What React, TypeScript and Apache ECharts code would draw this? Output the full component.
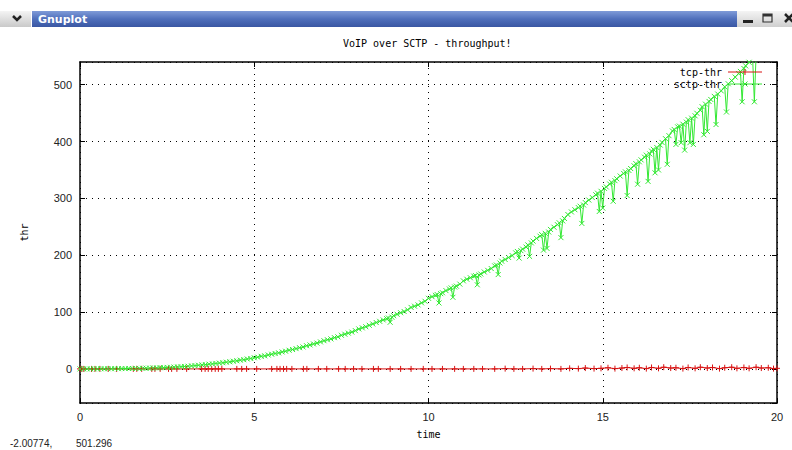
import React, { useEffect, useRef } from "react";
import * as echarts from "echarts";

const chartTitle = "VoIP over SCTP - throughput!";
const xTicks = [0, 5, 10, 15, 20];
const yTickLabels = [0, 100, 200, 300, 400, 500];
const seriesNames = ["tcp-thr", "sctp-thr"];
const statusLeft = "-2.00774,";
const statusRight = "501.296";

// tcp-thr: [time, thr]
const tcpData: number[][] = [
  [0, 0], [0.05, 0], [0.11, 0], [0.33, 0], [0.43, 0], [0.57, 0], [0.81, 0], [1.05, 0], [1.53, 0], [1.63, 0],
  [1.77, 0], [2.06, 0], [2.15, 0], [2.3, 0], [2.54, 0], [2.63, 0], [2.78, 0], [3.06, 0], [3.49, 0], [3.59, 0],
  [3.68, 0], [3.78, 0], [3.88, 0], [3.97, 0], [4.07, 0], [4.5, 0], [4.64, 0], [4.78, 0], [5.07, 0], [5.5, 0],
  [5.65, 0], [5.74, 0], [5.84, 0], [5.93, 0], [6.08, 0], [6.41, 0], [6.51, 0], [6.84, 0], [7.08, 0], [7.42, 0],
  [7.61, 0], [7.85, 0], [8.09, 0], [8.42, 0], [8.56, 0], [8.9, 0], [9.2, 0], [9.5, 0], [9.85, 0], [10.1, 0],
  [10.4, 0], [10.75, 0], [11.0, 0], [11.3, 0], [11.55, 0], [11.9, 0], [12.2, 0.5], [12.45, 0], [12.7, 0], [13.0, 0.5],
  [13.25, 0], [13.5, 0.5], [13.8, 0], [14.05, 1], [14.3, 0.5], [14.5, 1.5], [14.75, 0.5], [14.95, 1], [15.15, 2], [15.35, 0.5],
  [15.55, 1.5], [15.7, 2.5], [15.9, 1], [16.05, 2], [16.25, 0.5], [16.4, 2.5], [16.6, 1], [16.75, 3], [16.95, 1.5], [17.1, 2],
  [17.3, 0.5], [17.45, 2.5], [17.65, 1], [17.8, 3], [18.0, 1.5], [18.15, 2.5], [18.35, 0.5], [18.5, 2], [18.7, 3], [18.85, 1],
  [19.05, 2.5], [19.2, 1], [19.4, 3], [19.55, 1.5], [19.75, 2], [19.9, 0.5], [20, 1],
];

// sctp-thr: [time, thr]
const sctpData: number[][] = [
  [0, 0], [0.1, 0], [0.2, 0.1], [0.3, 0], [0.4, 0.2], [0.5, 0.1], [0.6, 0.3], [0.7, 0.2], [0.8, 0.4], [0.9, 0.3],
  [1, 0.5], [1.1, 0.4], [1.2, 0.6], [1.3, 0.5], [1.4, 0.8], [1.5, 0.7], [1.6, 0.9], [1.7, 1], [1.8, 1.1], [1.9, 1.3],
  [2, 1.4], [2.1, 1.6], [2.2, 1.8], [2.3, 2.1], [2.4, 2.2], [2.5, 2.6], [2.6, 2.8], [2.7, 3.2], [2.8, 3.5], [2.9, 3.9],
  [3, 4.3], [3.1, 4.7], [3.2, 5.3], [3.3, 5.8], [3.4, 6.4], [3.5, 7], [3.6, 7.5], [3.7, 8.3], [3.8, 8.8], [3.9, 9.6],
  [4, 10.2], [4.1, 10.9], [4.2, 11.8], [4.3, 12.5], [4.4, 13.5], [4.5, 14.3], [4.6, 15.4], [4.7, 16.2], [4.8, 17.4], [4.9, 18.3],
  [5, 19.6], [5.1, 20.6], [5.2, 22.1], [5.3, 23], [5.4, 24.5], [5.5, 25.8], [5.6, 27.1], [5.7, 28.2], [5.8, 29.8], [5.9, 31.1],
  [6, 32.8], [6.1, 34.1], [6.2, 35.7], [6.3, 37.3], [6.4, 38.6], [6.5, 40.8], [6.6, 42.2], [6.7, 43.9], [6.8, 45.4], [6.9, 47.5],
  [7, 49.6], [7.1, 51.3], [7.2, 52.8], [7.3, 55], [7.4, 56.4], [7.5, 59.2], [7.6, 61], [7.7, 62.9], [7.8, 64.8], [7.9, 67.4],
  [8, 70.3], [8.1, 72.2], [8.2, 74.2], [8.3, 76.7], [8.4, 79.1], [8.5, 81.6], [8.6, 83.7], [8.7, 86.2], [8.8, 88.3], [8.85, 89.5],
  [8.9, 82], [8.95, 91], [9, 93.6], [9.1, 96.1], [9.2, 98.8], [9.3, 101], [9.4, 104], [9.5, 108.2], [9.6, 110.3], [9.7, 112.6],
  [9.8, 116.2], [9.9, 119], [10, 124.2], [10.1, 127.1], [10.2, 129.4], [10.25, 130.8], [10.3, 116], [10.35, 132.4], [10.4, 134], [10.5, 137.8],
  [10.6, 140.6], [10.65, 142.5], [10.7, 126], [10.75, 144.1], [10.8, 145.6], [10.9, 149.2], [11, 154.9], [11.1, 157.8], [11.2, 160.4], [11.3, 163.2],
  [11.35, 164.1], [11.4, 148], [11.45, 165.3], [11.5, 167], [11.6, 170.5], [11.7, 173.4], [11.8, 176.6], [11.9, 181.2], [11.95, 182.7], [12, 166],
  [12.05, 186.3], [12.1, 189.6], [12.2, 192.5], [12.3, 196], [12.4, 199.4], [12.5, 204.2], [12.55, 206.6], [12.6, 195], [12.65, 208.1], [12.7, 210.8],
  [12.8, 214.3], [12.85, 218.2], [12.9, 198], [12.95, 221.7], [13, 224.9], [13.1, 229.6], [13.2, 233.5], [13.25, 236.2], [13.3, 209], [13.35, 238.5],
  [13.4, 212], [13.45, 240.8], [13.5, 245.4], [13.6, 249.3], [13.7, 253.8], [13.75, 257.1], [13.8, 231], [13.85, 260.4], [13.9, 264.7], [14, 271.6],
  [14.1, 276.2], [14.2, 280.1], [14.3, 283.8], [14.35, 286.3], [14.4, 256], [14.45, 288.4], [14.5, 292.6], [14.6, 297.1], [14.7, 301.5], [14.8, 306.4],
  [14.85, 309.2], [14.9, 277], [14.95, 312.5], [15, 283], [15.05, 317.6], [15.1, 320.2], [15.2, 325.3], [15.25, 328.4], [15.3, 295], [15.35, 331.2],
  [15.4, 334.6], [15.5, 339.4], [15.6, 343.9], [15.65, 346.7], [15.7, 305], [15.75, 349.2], [15.8, 352.6], [15.9, 357.3], [15.95, 361.2], [16, 325],
  [16.05, 364.4], [16.1, 367.8], [16.2, 372.5], [16.25, 376.1], [16.3, 330], [16.35, 378.3], [16.4, 383.2], [16.45, 386.4], [16.5, 345], [16.55, 389.6],
  [16.6, 350], [16.65, 393.8], [16.7, 398.5], [16.8, 405.1], [16.85, 360], [16.9, 410.4], [17, 418.6], [17.05, 421.3], [17.1, 395], [17.15, 425.8],
  [17.2, 427.2], [17.25, 398], [17.3, 430.6], [17.35, 385], [17.4, 434.2], [17.45, 438.5], [17.5, 398], [17.55, 441.2], [17.6, 395], [17.65, 445.3],
  [17.7, 449.8], [17.8, 455.2], [17.85, 461.4], [17.9, 412], [17.95, 465.8], [18, 418], [18.05, 470.6], [18.1, 474.1], [18.2, 479.5], [18.25, 430],
  [18.3, 483.6], [18.4, 489.2], [18.5, 496.3], [18.55, 452], [18.6, 501.7], [18.7, 507.2], [18.8, 513.5], [18.9, 519.8], [18.95, 523.4], [19, 470],
  [19.05, 528.6], [19.1, 533.2], [19.2, 539.5], [19.3, 548], [19.35, 470], [19.4, 553], [19.5, 562],
];

const RED = "#d81414";
const GREEN = "#33e833";
const plusPath = "path://M5 0L5 10M0 5L10 5";
const crossPath = "path://M0 0L10 10M10 0L0 10";

export default function App() {
  const ref = useRef<HTMLDivElement>(null);

  useEffect(() => {
    document.body.style.margin = "0";
    if (!ref.current) return;
    const chart = echarts.init(ref.current, undefined, { renderer: "svg" });

    const monoFont = "DejaVu Sans Mono";
    const tickFont = "Liberation Sans";
    const axisLine = { show: true, onZero: false, lineStyle: { color: "#000", width: 1.5 } };
    const axisTick = { show: true, inside: true, length: 5, lineStyle: { color: "#000", width: 1 } };
    const grid = { type: [1, 5] as number[], color: "#000", width: 1 };

    // legend key (gnuplot style: text right-aligned, sample line to its right)
    const keyText = (label: string, y: number) => ({
      type: "text",
      x: 722,
      y,
      z: 10,
      style: {
        text: label,
        fill: "#000",
        font: '10px "DejaVu Sans Mono"',
        align: "right",
        verticalAlign: "middle",
      },
    });
    const keyLine = (y: number, color: string) => ({
      type: "line",
      z: 10,
      shape: { x1: 728, y1: y, x2: 762, y2: y },
      style: { stroke: color, lineWidth: 1 },
    });

    chart.setOption({
      animation: false,
      backgroundColor: "#fff",
      title: {
        text: chartTitle,
        left: 343,
        top: 38,
        padding: 0,
        textStyle: { fontFamily: monoFont, fontSize: 10, fontWeight: "normal", color: "#000" },
      },
      legend: { show: false },
      grid: { left: 80, right: 15, top: 62, bottom: 47, containLabel: false },
      xAxis: [
        {
          type: "value",
          min: xTicks[0],
          max: xTicks[xTicks.length - 1],
          interval: 5,
          position: "bottom",
          name: "time",
          nameLocation: "middle",
          nameGap: 26,
          nameTextStyle: { fontFamily: monoFont, fontSize: 10, color: "#000" },
          axisLine,
          axisTick,
          axisLabel: { color: "#222", fontFamily: tickFont, fontSize: 11, margin: 8 },
          splitLine: { show: true, lineStyle: grid },
        },
        {
          type: "value",
          min: xTicks[0],
          max: xTicks[xTicks.length - 1],
          interval: 5,
          position: "top",
          axisLine,
          axisTick,
          axisLabel: { show: false },
          splitLine: { show: false },
        },
      ],
      yAxis: [
        {
          type: "value",
          min: -60,
          max: 540,
          splitNumber: 5,
          position: "left",
          name: "thr",
          nameLocation: "middle",
          nameGap: 51,
          nameRotate: 90,
          nameTextStyle: { fontFamily: monoFont, fontSize: 10, color: "#000" },
          axisLine,
          axisTick,
          axisLabel: {
            color: "#222",
            fontFamily: tickFont,
            fontSize: 11,
            margin: 8,
            showMinLabel: false,
            showMaxLabel: false,
            formatter: (v: number) => (yTickLabels.indexOf(v) >= 0 ? String(v) : ""),
          },
          splitLine: { show: true, lineStyle: grid },
        },
        {
          type: "value",
          min: -60,
          max: 540,
          splitNumber: 5,
          position: "right",
          axisLine,
          axisTick,
          axisLabel: { show: false },
          splitLine: { show: false },
        },
      ],
      series: [
        {
          name: seriesNames[0],
          type: "line",
          data: tcpData,
          xAxisIndex: 0,
          yAxisIndex: 0,
          symbol: plusPath,
          symbolSize: 6,
          showSymbol: true,
          clip: true,
          lineStyle: { color: RED, width: 1 },
          itemStyle: { color: RED, borderColor: RED, borderWidth: 1 },
          emphasis: { disabled: true },
        },
        {
          name: seriesNames[1],
          type: "line",
          data: sctpData,
          xAxisIndex: 0,
          yAxisIndex: 0,
          symbol: crossPath,
          symbolSize: 5,
          showSymbol: true,
          clip: true,
          lineStyle: { color: GREEN, width: 1 },
          itemStyle: { color: GREEN, borderColor: GREEN, borderWidth: 1 },
          emphasis: { disabled: true },
        },
      ],
      graphic: [
        {
          type: "rect",
          shape: { x: 0, y: 11, width: 31, height: 16 },
          style: {
            fill: new echarts.graphic.LinearGradient(0, 0, 0, 1, [
              { offset: 0, color: "#f4f4f4" },
              { offset: 1, color: "#c9c9c9" },
            ]),
          },
        },
        {
          type: "polyline",
          shape: { points: [[13, 16], [17, 20], [21, 16]] },
          style: { stroke: "#222", lineWidth: 2.5, fill: "none" },
        },
        {
          type: "rect",
          shape: { x: 32, y: 11, width: 705, height: 16 },
          style: {
            fill: new echarts.graphic.LinearGradient(0, 0, 0, 1, [
              { offset: 0, color: "#7f9bd8" },
              { offset: 0.5, color: "#4f6fbb" },
              { offset: 1, color: "#3a57a3" },
            ]),
          },
        },
        {
          type: "text",
          x: 38,
          y: 19,
          style: {
            text: "Gnuplot",
            fill: "#fff",
            font: 'bold 11px "DejaVu Sans"',
            verticalAlign: "middle",
          },
        },
        {
          type: "rect",
          shape: { x: 737, y: 11, width: 55, height: 16 },
          style: {
            fill: new echarts.graphic.LinearGradient(0, 0, 0, 1, [
              { offset: 0, color: "#f4f4f4" },
              { offset: 1, color: "#cfcfcf" },
            ]),
          },
        },
        { type: "rect", shape: { x: 743, y: 20, width: 10, height: 3 }, style: { fill: "#222" } },
        {
          type: "rect",
          shape: { x: 763, y: 14, width: 9, height: 8 },
          style: { fill: "none", stroke: "#333", lineWidth: 1.2 },
        },
        { type: "rect", shape: { x: 763, y: 14, width: 9, height: 2.5 }, style: { fill: "#333" } },
        { type: "line", shape: { x1: 785, y1: 14, x2: 793, y2: 22 }, style: { stroke: "#222", lineWidth: 2.5 } },
        { type: "line", shape: { x1: 793, y1: 14, x2: 785, y2: 22 }, style: { stroke: "#222", lineWidth: 2.5 } },
        keyText(seriesNames[0], 72),
        keyLine(72, RED),
        { type: "line", z: 10, shape: { x1: 745, y1: 69, x2: 745, y2: 75 }, style: { stroke: RED, lineWidth: 1 } },
        keyText(seriesNames[1], 84),
        keyLine(84, GREEN),
        { type: "line", z: 10, shape: { x1: 742.5, y1: 81.5, x2: 747.5, y2: 86.5 }, style: { stroke: GREEN, lineWidth: 1 } },
        { type: "line", z: 10, shape: { x1: 747.5, y1: 81.5, x2: 742.5, y2: 86.5 }, style: { stroke: GREEN, lineWidth: 1 } },
        {
          type: "text",
          x: 10,
          y: 438,
          style: { text: statusLeft, fill: "#222", font: '10px "Liberation Sans"' },
        },
        {
          type: "text",
          x: 76,
          y: 438,
          style: { text: statusRight, fill: "#222", font: '10px "Liberation Sans"' },
        },
      ],
    });

    return () => {
      chart.dispose();
    };
  }, []);

  return <div ref={ref} style={{ width: 792, height: 450 }} />;
}
